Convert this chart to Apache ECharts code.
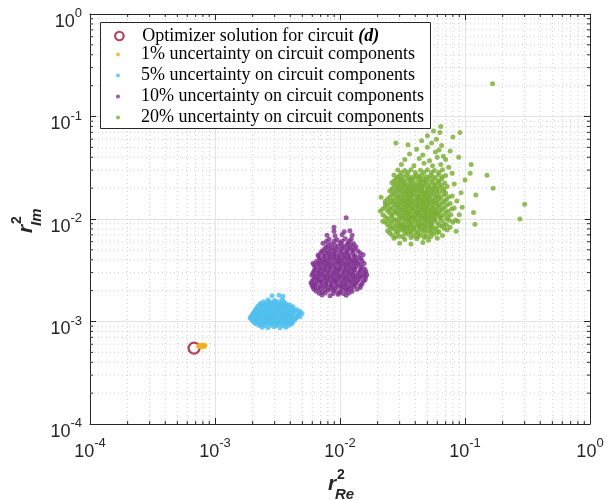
<!DOCTYPE html>
<html><head><meta charset="utf-8">
<script src="https://cdn.jsdelivr.net/npm/echarts@6/dist/echarts.min.js"></script>
<style>html,body{margin:0;padding:0;background:#fff}#c{width:607px;height:500px}</style>
</head><body><div id="c"></div>
<script>
const seriesNames = [
  'Optimizer solution for circuit (d)',
  '1% uncertainty on circuit components',
  '5% uncertainty on circuit components',
  '10% uncertainty on circuit components',
  '20% uncertainty on circuit components'
];
const seriesColors = ['#A2142F', '#EDB120', '#4DBEEE', '#7E2F8E', '#77AC30'];
const axisMin = 1e-4, axisMax = 1;
const minorDigits = [2, 3, 4, 5, 6, 7, 8, 9];
const decades = [1e-4, 1e-3, 1e-2, 1e-1];

const optimum = [[6.8e-4, 5.5e-4]];

const unc1 = [[7.5e-4,5.7e-4],[7.7e-4,5.8e-4],[7.9e-4,5.75e-4],[8.1e-4,5.8e-4],[7.8e-4,5.65e-4],[8.0e-4,5.9e-4],[7.6e-4,5.85e-4],[8.2e-4,5.7e-4],[7.4e-4,5.75e-4],[8.3e-4,5.85e-4]];

const unc5 = [
[2.38e-3,0.88e-3],[2.66e-3,0.87e-3],[2.97e-3,0.89e-3],[3.31e-3,0.87e-3],[3.70e-3,0.88e-3],
[2.25e-3,0.915e-3],[2.51e-3,0.91e-3],[2.80e-3,0.92e-3],[3.13e-3,0.915e-3],[3.50e-3,0.91e-3],[3.88e-3,0.92e-3],
[2.13e-3,0.95e-3],[2.33e-3,0.94e-3],[2.56e-3,0.96e-3],[2.80e-3,0.95e-3],[3.08e-3,0.94e-3],[3.37e-3,0.96e-3],[3.70e-3,0.95e-3],[4.06e-3,0.94e-3],
[2.06e-3,0.98e-3],[2.23e-3,0.985e-3],[2.45e-3,0.975e-3],[2.68e-3,0.98e-3],[2.95e-3,0.985e-3],[3.23e-3,0.975e-3],[3.53e-3,0.98e-3],[3.88e-3,0.985e-3],[4.15e-3,0.975e-3],
[2.01e-3,1.01e-3],[2.21e-3,1.02e-3],[2.42e-3,1.00e-3],[2.66e-3,1.01e-3],[2.91e-3,1.02e-3],[3.19e-3,1.00e-3],[3.50e-3,1.01e-3],[3.84e-3,1.02e-3],[4.21e-3,1.00e-3],
[1.96e-3,1.045e-3],[2.15e-3,1.04e-3],[2.35e-3,1.05e-3],[2.58e-3,1.045e-3],[2.83e-3,1.04e-3],[3.10e-3,1.05e-3],[3.40e-3,1.045e-3],[3.73e-3,1.04e-3],[4.10e-3,1.05e-3],[4.35e-3,1.045e-3],
[1.91e-3,1.08e-3],[2.09e-3,1.07e-3],[2.29e-3,1.09e-3],[2.51e-3,1.08e-3],[2.75e-3,1.07e-3],[3.02e-3,1.09e-3],[3.31e-3,1.08e-3],[3.63e-3,1.07e-3],[3.98e-3,1.09e-3],[4.45e-3,1.08e-3],
[1.94e-3,1.115e-3],[2.12e-3,1.11e-3],[2.33e-3,1.12e-3],[2.55e-3,1.115e-3],[2.80e-3,1.11e-3],[3.07e-3,1.12e-3],[3.37e-3,1.115e-3],[3.70e-3,1.11e-3],[4.05e-3,1.12e-3],[4.50e-3,1.115e-3],[4.80e-3,1.11e-3],
[1.98e-3,1.15e-3],[2.17e-3,1.16e-3],[2.38e-3,1.14e-3],[2.61e-3,1.15e-3],[2.86e-3,1.16e-3],[3.13e-3,1.14e-3],[3.44e-3,1.15e-3],[3.77e-3,1.16e-3],[4.13e-3,1.14e-3],[4.61e-3,1.15e-3],[4.97e-3,1.20e-3],
[2.02e-3,1.19e-3],[2.21e-3,1.185e-3],[2.42e-3,1.195e-3],[2.65e-3,1.19e-3],[2.91e-3,1.185e-3],[3.19e-3,1.195e-3],[3.50e-3,1.19e-3],[3.84e-3,1.185e-3],[4.20e-3,1.195e-3],[4.70e-3,1.19e-3],
[2.05e-3,1.23e-3],[2.25e-3,1.22e-3],[2.47e-3,1.24e-3],[2.70e-3,1.23e-3],[2.97e-3,1.22e-3],[3.25e-3,1.24e-3],[3.57e-3,1.23e-3],[3.91e-3,1.22e-3],[4.29e-3,1.24e-3],[4.79e-3,1.26e-3],
[2.09e-3,1.275e-3],[2.29e-3,1.27e-3],[2.51e-3,1.28e-3],[2.75e-3,1.275e-3],[3.02e-3,1.27e-3],[3.31e-3,1.28e-3],[3.63e-3,1.275e-3],[3.98e-3,1.27e-3],[4.40e-3,1.28e-3],
[2.13e-3,1.32e-3],[2.33e-3,1.31e-3],[2.56e-3,1.33e-3],[2.80e-3,1.32e-3],[3.08e-3,1.31e-3],[3.37e-3,1.33e-3],[3.70e-3,1.32e-3],[4.06e-3,1.31e-3],[4.53e-3,1.30e-3],
[2.17e-3,1.365e-3],[2.38e-3,1.36e-3],[2.61e-3,1.37e-3],[2.86e-3,1.365e-3],[3.13e-3,1.36e-3],[3.44e-3,1.37e-3],[3.77e-3,1.365e-3],[4.13e-3,1.36e-3],
[2.21e-3,1.41e-3],[2.42e-3,1.42e-3],[2.66e-3,1.40e-3],[2.91e-3,1.41e-3],[3.19e-3,1.42e-3],[3.50e-3,1.40e-3],[3.84e-3,1.41e-3],[4.21e-3,1.39e-3],
[2.27e-3,1.46e-3],[2.49e-3,1.455e-3],[2.73e-3,1.465e-3],[3.00e-3,1.46e-3],[3.28e-3,1.455e-3],[3.60e-3,1.465e-3],[3.95e-3,1.46e-3],
[2.33e-3,1.51e-3],[2.56e-3,1.50e-3],[2.80e-3,1.52e-3],[3.08e-3,1.51e-3],[3.37e-3,1.50e-3],[3.70e-3,1.49e-3],
[2.45e-3,1.56e-3],[2.70e-3,1.555e-3],[2.95e-3,1.565e-3],[3.22e-3,1.56e-3],[3.55e-3,1.555e-3],
[2.66e-3,1.62e-3],[3.02e-3,1.60e-3],[3.44e-3,1.63e-3],
[2.86e-3,1.78e-3],[3.25e-3,1.80e-3],[3.50e-3,1.76e-3]
];

const unc10 = [
[0.00718,0.00181],[0.00832,0.00178],[0.00964,0.00184],[0.0112,0.00180],
[0.0068,0.00189],[0.0076,0.00190],[0.0088,0.00188],[0.0098,0.00190],[0.0106,0.00188],[0.0118,0.00190],
[0.00643,0.00198],[0.00718,0.00195],[0.00802,0.00201],[0.00895,0.00198],[0.0100,0.00195],[0.0112,0.00201],[0.0125,0.00197],
[0.0062,0.00207],[0.0069,0.00208],[0.0076,0.00206],[0.0084,0.00208],[0.0092,0.00206],[0.0103,0.00208],[0.0113,0.00206],[0.0122,0.00208],[0.0137,0.00206],
[0.00608,0.00216],[0.00667,0.00213],[0.00731,0.00219],[0.00802,0.00216],[0.00879,0.00213],[0.00964,0.00219],[0.0106,0.00216],[0.0116,0.00213],[0.0129,0.00219],[0.0145,0.00215],
[0.0060,0.00226],[0.0063,0.00228],[0.0070,0.00225],[0.0077,0.00227],[0.0085,0.00225],[0.0093,0.00228],[0.0101,0.00225],[0.0110,0.00227],[0.0121,0.00225],[0.0132,0.00228],[0.0146,0.00226],
[0.00586,0.00237],[0.00643,0.00234],[0.00705,0.00240],[0.00773,0.00237],[0.00847,0.00234],[0.00929,0.00240],[0.0102,0.00237],[0.0112,0.00234],[0.0123,0.00240],[0.0134,0.00237],[0.0150,0.00234],
[0.0060,0.00248],[0.0066,0.00250],[0.0072,0.00247],[0.0079,0.00249],[0.0087,0.00247],[0.0095,0.00250],[0.0105,0.00247],[0.0115,0.00249],[0.0126,0.00247],[0.0138,0.00250],[0.0154,0.00248],
[0.00619,0.00259],[0.00679,0.00256],[0.00745,0.00262],[0.00817,0.00259],[0.00895,0.00256],[0.00982,0.00262],[0.0108,0.00259],[0.0118,0.00256],[0.0129,0.00262],[0.0142,0.00259],[0.0159,0.00256],
[0.0063,0.00271],[0.0069,0.00273],[0.0076,0.00270],[0.0083,0.00272],[0.0091,0.00270],[0.0100,0.00273],[0.0110,0.00270],[0.0121,0.00272],[0.0132,0.00270],[0.0146,0.00273],[0.0160,0.00271],
[0.00597,0.00283],[0.00655,0.00280],[0.00718,0.00286],[0.00787,0.00283],[0.00863,0.00280],[0.00946,0.00286],[0.0104,0.00283],[0.0114,0.00280],[0.0125,0.00286],[0.0137,0.00283],[0.0150,0.00280],[0.0164,0.00286],
[0.0061,0.00296],[0.0067,0.00298],[0.0073,0.00295],[0.0080,0.00297],[0.0088,0.00295],[0.0096,0.00298],[0.0106,0.00295],[0.0116,0.00297],[0.0127,0.00295],[0.0140,0.00298],[0.0155,0.00296],
[0.00619,0.00310],[0.00679,0.00306],[0.00745,0.00314],[0.00817,0.00310],[0.00895,0.00306],[0.00982,0.00314],[0.0108,0.00310],[0.0118,0.00306],[0.0129,0.00314],[0.0145,0.00310],[0.0161,0.00306],
[0.0063,0.00324],[0.0069,0.00326],[0.0076,0.00323],[0.0083,0.00325],[0.0092,0.00323],[0.0100,0.00326],[0.0110,0.00323],[0.0120,0.00325],[0.0131,0.00323],[0.0146,0.00326],[0.0158,0.00324],
[0.00643,0.00339],[0.00705,0.00335],[0.00773,0.00343],[0.00847,0.00339],[0.00929,0.00335],[0.0102,0.00343],[0.0112,0.00339],[0.0123,0.00335],[0.0134,0.00343],[0.0150,0.00339],
[0.0062,0.00355],[0.0069,0.00357],[0.0075,0.00353],[0.0082,0.00356],[0.0090,0.00353],[0.0099,0.00357],[0.0109,0.00353],[0.0119,0.00356],[0.0130,0.00353],[0.0144,0.00357],
[0.00608,0.00371],[0.00667,0.00367],[0.00731,0.00375],[0.00802,0.00371],[0.00879,0.00367],[0.00964,0.00375],[0.0106,0.00371],[0.0116,0.00367],[0.0127,0.00375],[0.0139,0.00371],[0.0156,0.00367],
[0.0065,0.00388],[0.0071,0.00390],[0.0078,0.00386],[0.0085,0.00389],[0.0094,0.00386],[0.0103,0.00390],[0.0113,0.00386],[0.0124,0.00389],[0.0136,0.00386],[0.0150,0.00390],
[0.00692,0.00406],[0.00759,0.00401],[0.00832,0.00411],[0.00912,0.00406],[0.0100,0.00401],[0.0110,0.00411],[0.0120,0.00406],[0.0132,0.00401],[0.0147,0.00411],
[0.0068,0.00425],[0.0075,0.00427],[0.0082,0.00423],[0.0090,0.00426],[0.0098,0.00423],[0.0107,0.00427],[0.0117,0.00423],[0.0129,0.00426],[0.0142,0.00424],
[0.00667,0.00444],[0.00745,0.00439],[0.00817,0.00449],[0.00895,0.00444],[0.00982,0.00439],[0.0108,0.00449],[0.0118,0.00444],[0.0132,0.00439],[0.0153,0.00449],
[0.0070,0.00465],[0.0077,0.00467],[0.0085,0.00463],[0.0093,0.00466],[0.0103,0.00463],[0.0114,0.00467],[0.0127,0.00463],[0.0145,0.00466],
[0.00718,0.00486],[0.00802,0.00481],[0.00895,0.00491],[0.0100,0.00486],[0.0112,0.00481],[0.0125,0.00491],[0.0139,0.00486],
[0.0075,0.00508],[0.0083,0.00510],[0.0093,0.00506],[0.0104,0.00509],[0.0116,0.00506],[0.0130,0.00510],
[0.00773,0.00531],[0.00863,0.00525],[0.00964,0.00537],[0.0108,0.00531],[0.0120,0.00525],[0.0134,0.00537],
[0.0080,0.00556],[0.0091,0.00559],[0.0103,0.00553],[0.0113,0.00558],[0.0124,0.00554],
[0.00731,0.00581],[0.00847,0.00575],[0.0100,0.00587],[0.0116,0.00581],[0.0129,0.00575],
[0.0078,0.00608],[0.0090,0.00611],[0.0104,0.00605],[0.0119,0.00610],
[0.00817,0.00635],[0.00946,0.00628],[0.0110,0.00642],[0.0123,0.00635],
[0.00787,0.00695],[0.00912,0.00688],[0.0104,0.00702],[0.0125,0.00695],
[0.00895,0.0076],[0.0108,0.0075],[0.0120,0.0077],
[0.00895,0.0083],[0.0112,0.0103]
];

const unc20 = [
[0.030,0.0058],[0.037,0.0057],[0.046,0.0059],
[0.027,0.0065],[0.033,0.0063],[0.041,0.0064],[0.051,0.0062],[0.060,0.0065],
[0.028,0.0067],[0.032,0.0067],[0.037,0.0066],[0.042,0.0067],[0.047,0.0066],[0.053,0.0067],
[0.026,0.0070],[0.030,0.0068],[0.035,0.0071],[0.039,0.0069],[0.044,0.0070],[0.049,0.0068],[0.056,0.0071],[0.066,0.0069],
[0.025,0.0073],[0.029,0.0074],[0.033,0.0073],[0.037,0.0074],[0.042,0.0073],[0.047,0.0074],[0.053,0.0073],[0.060,0.0074],
[0.024,0.0077],[0.028,0.0075],[0.031,0.0078],[0.034,0.0076],[0.037,0.0077],[0.041,0.0075],[0.045,0.0078],[0.050,0.0076],[0.055,0.0077],[0.062,0.0075],[0.072,0.0078],
[0.026,0.0080],[0.029,0.0081],[0.032,0.0080],[0.035,0.0081],[0.039,0.0080],[0.043,0.0081],[0.048,0.0080],[0.053,0.0081],[0.059,0.0080],[0.068,0.0081],
[0.025,0.0084],[0.027,0.0082],[0.030,0.0085],[0.033,0.0083],[0.036,0.0084],[0.039,0.0082],[0.043,0.0085],[0.047,0.0083],[0.052,0.0084],[0.057,0.0082],[0.065,0.0085],[0.076,0.0083],
[0.024,0.0088],[0.028,0.0087],[0.031,0.0088],[0.034,0.0087],[0.037,0.0088],[0.041,0.0087],[0.045,0.0088],[0.049,0.0087],[0.054,0.0088],[0.062,0.0087],[0.071,0.0088],
[0.023,0.0093],[0.026,0.0091],[0.029,0.0092],[0.032,0.0090],[0.035,0.0093],[0.038,0.0091],[0.042,0.0092],[0.046,0.0090],[0.050,0.0093],[0.054,0.0091],[0.060,0.0092],[0.068,0.0090],[0.080,0.0093],
[0.025,0.0096],[0.027,0.0097],[0.030,0.0096],[0.033,0.0097],[0.036,0.0096],[0.040,0.0097],[0.044,0.0096],[0.048,0.0097],[0.052,0.0096],[0.057,0.0097],[0.065,0.0096],[0.075,0.0097],
[0.024,0.0101],[0.028,0.0099],[0.031,0.0102],[0.034,0.0100],[0.037,0.0101],[0.040,0.0099],[0.044,0.0102],[0.048,0.0100],[0.052,0.0101],[0.057,0.0099],[0.063,0.0102],[0.071,0.0100],[0.084,0.0098],
[0.023,0.0105],[0.026,0.0106],[0.030,0.0105],[0.033,0.0106],[0.036,0.0105],[0.038,0.0104],[0.041,0.0106],[0.045,0.0105],[0.049,0.0106],[0.053,0.0105],[0.058,0.0106],[0.064,0.0105],[0.073,0.0106],
[0.022,0.0110],[0.026,0.0108],[0.029,0.0111],[0.032,0.0109],[0.035,0.0110],[0.039,0.0108],[0.042,0.0111],[0.046,0.0109],[0.050,0.0110],[0.055,0.0108],[0.060,0.0111],[0.067,0.0109],[0.077,0.0110],
[0.025,0.0115],[0.028,0.0116],[0.031,0.0115],[0.034,0.0116],[0.037,0.0115],[0.041,0.0116],[0.044,0.0115],[0.048,0.0116],[0.053,0.0115],[0.057,0.0116],[0.062,0.0115],[0.070,0.0116],
[0.024,0.0120],[0.027,0.0118],[0.030,0.0121],[0.033,0.0119],[0.036,0.0120],[0.040,0.0118],[0.044,0.0121],[0.048,0.0119],[0.052,0.0120],[0.058,0.0118],[0.064,0.0121],[0.073,0.0119],
[0.022,0.0125],[0.025,0.0126],[0.028,0.0125],[0.031,0.0126],[0.034,0.0125],[0.038,0.0126],[0.041,0.0125],[0.045,0.0126],[0.049,0.0125],[0.054,0.0126],[0.059,0.0125],[0.066,0.0126],[0.078,0.0125],
[0.023,0.0131],[0.026,0.0129],[0.029,0.0132],[0.032,0.0130],[0.035,0.0131],[0.038,0.0129],[0.042,0.0132],[0.046,0.0130],[0.050,0.0131],[0.055,0.0129],[0.061,0.0132],[0.069,0.0130],[0.082,0.0128],
[0.024,0.0137],[0.027,0.0138],[0.030,0.0137],[0.033,0.0138],[0.036,0.0137],[0.039,0.0138],[0.043,0.0137],[0.047,0.0138],[0.051,0.0137],[0.056,0.0138],[0.063,0.0137],[0.072,0.0138],
[0.025,0.0143],[0.028,0.0141],[0.031,0.0144],[0.034,0.0142],[0.037,0.0143],[0.041,0.0141],[0.045,0.0144],[0.049,0.0142],[0.053,0.0143],[0.059,0.0141],[0.066,0.0144],[0.076,0.0142],
[0.023,0.0149],[0.026,0.0150],[0.029,0.0149],[0.032,0.0150],[0.035,0.0149],[0.038,0.0150],[0.042,0.0149],[0.046,0.0150],[0.050,0.0149],[0.055,0.0150],[0.060,0.0149],[0.068,0.0150],
[0.024,0.0156],[0.027,0.0154],[0.030,0.0157],[0.033,0.0155],[0.036,0.0156],[0.040,0.0154],[0.043,0.0157],[0.047,0.0155],[0.051,0.0156],[0.056,0.0154],[0.062,0.0157],[0.071,0.0155],
[0.025,0.0163],[0.028,0.0164],[0.031,0.0163],[0.034,0.0164],[0.037,0.0163],[0.041,0.0164],[0.044,0.0163],[0.048,0.0164],[0.052,0.0163],[0.058,0.0164],[0.064,0.0163],[0.074,0.0164],
[0.026,0.0171],[0.029,0.0169],[0.032,0.0172],[0.035,0.0170],[0.038,0.0171],[0.042,0.0169],[0.046,0.0172],[0.050,0.0170],[0.054,0.0171],[0.060,0.0169],[0.068,0.0172],[0.079,0.0168],
[0.027,0.0179],[0.030,0.0180],[0.033,0.0179],[0.036,0.0180],[0.039,0.0179],[0.043,0.0180],[0.047,0.0179],[0.051,0.0180],[0.056,0.0179],[0.062,0.0180],[0.070,0.0179],
[0.025,0.0188],[0.028,0.0186],[0.031,0.0189],[0.034,0.0187],[0.037,0.0188],[0.041,0.0186],[0.045,0.0189],[0.049,0.0187],[0.054,0.0188],[0.059,0.0186],[0.066,0.0189],
[0.026,0.0196],[0.029,0.0197],[0.032,0.0196],[0.035,0.0197],[0.038,0.0196],[0.041,0.0197],[0.045,0.0196],[0.050,0.0197],[0.055,0.0196],[0.060,0.0197],[0.068,0.0196],
[0.027,0.0206],[0.030,0.0204],[0.033,0.0207],[0.036,0.0205],[0.039,0.0206],[0.043,0.0204],[0.047,0.0207],[0.052,0.0205],[0.057,0.0206],[0.063,0.0204],[0.072,0.0207],
[0.028,0.0215],[0.031,0.0216],[0.034,0.0215],[0.038,0.0216],[0.042,0.0215],[0.046,0.0216],[0.051,0.0215],[0.058,0.0216],[0.065,0.0215],
[0.026,0.0226],[0.029,0.0224],[0.032,0.0227],[0.036,0.0225],[0.040,0.0226],[0.044,0.0224],[0.049,0.0227],[0.055,0.0225],[0.061,0.0226],[0.069,0.0224],
[0.027,0.0235],[0.030,0.0236],[0.033,0.0235],[0.037,0.0236],[0.044,0.0235],[0.048,0.0236],[0.054,0.0235],[0.062,0.0236],
[0.028,0.0246],[0.031,0.0244],[0.035,0.0247],[0.038,0.0245],[0.042,0.0246],[0.046,0.0244],[0.051,0.0247],[0.058,0.0245],[0.065,0.0246],
[0.029,0.0257],[0.032,0.0258],[0.036,0.0257],[0.039,0.0258],[0.043,0.0257],[0.049,0.0258],[0.056,0.0257],[0.066,0.0258],
[0.027,0.0268],[0.030,0.0266],[0.034,0.0269],[0.041,0.0267],[0.045,0.0268],[0.053,0.0266],[0.061,0.0269],[0.070,0.0266],
[0.031,0.0285],[0.035,0.0286],[0.040,0.0285],[0.047,0.0286],[0.054,0.0285],[0.062,0.0286],
[0.029,0.0301],[0.033,0.0298],[0.037,0.0302],[0.044,0.0299],[0.050,0.0301],[0.057,0.0298],[0.066,0.0302],
[0.031,0.034],[0.039,0.033],[0.047,0.035],[0.055,0.033],[0.064,0.034],[0.074,0.032],
[0.033,0.038],[0.043,0.039],[0.052,0.037],[0.060,0.040],[0.070,0.038],
[0.036,0.043],[0.046,0.042],[0.058,0.045],[0.067,0.041],
[0.041,0.048],[0.050,0.050],[0.062,0.047],[0.076,0.046],
[0.035,0.053],[0.054,0.055],[0.065,0.052],
[0.028,0.055],[0.045,0.058],[0.059,0.060],
[0.050,0.065],[0.063,0.070],[0.080,0.063],[0.064,0.080],[0.056,0.072],
[0.166,0.209],[0.30,0.0139],[0.275,0.0100],[0.168,0.020],[0.150,0.0267],[0.122,0.0171],[0.120,0.0089],[0.117,0.0116],
[0.112,0.034],[0.110,0.028],[0.091,0.070],[0.089,0.040],[0.100,0.024],[0.095,0.013],[0.088,0.0095],[0.093,0.018],
[0.082,0.022],[0.086,0.015],[0.079,0.028],[0.090,0.011],[0.085,0.0076],
[0.0213,0.0163],[0.022,0.0095],[0.023,0.0140],[0.021,0.0120]
];

const minorVals = [];
decades.forEach(d => minorDigits.forEach(k => minorVals.push(+(d * k).toPrecision(3))));

const tickFont = 'Liberation Sans';
const tickRich = {
  b: { fontFamily: tickFont, fontSize: 18, color: '#262626', lineHeight: 24, verticalAlign: 'bottom' },
  s: { fontFamily: tickFont, fontSize: 13, color: '#262626', lineHeight: 11, verticalAlign: 'top' }
};
const fmt = v => '{b|10}{s|' + Math.round(Math.log10(v)) + '}';

function logAxis(pos, labels) {
  return {
    type: 'log', logBase: 10, min: axisMin, max: axisMax, position: pos,
    axisLine: { show: true, onZero: false, lineStyle: { color: '#262626', width: 1 } },
    axisTick: { show: true, inside: true, length: 6, lineStyle: { color: '#262626', width: 1 } },
    axisLabel: labels ? Object.assign({ show: true, formatter: fmt, rich: tickRich, showMinLabel: true, showMaxLabel: true }, labels) : { show: false },
    splitLine: { show: !!labels, lineStyle: { color: '#e4e4e4', width: 1 } },
    minorTick: { show: false }, minorSplitLine: { show: false }
  };
}

function minorRender(dim) {
  return function (params, api) {
    const v = api.value(dim);
    let a, b, t1, t2;
    if (dim === 0) {
      a = api.coord([v, axisMin]); b = api.coord([v, axisMax]);
      t1 = [a[0], a[1] - 3]; t2 = [b[0], b[1] + 3];
    } else {
      a = api.coord([axisMin, v]); b = api.coord([axisMax, v]);
      t1 = [a[0] + 3, a[1]]; t2 = [b[0] - 3, b[1]];
    }
    return { type: 'group', children: [
      { type: 'line', shape: { x1: a[0], y1: a[1], x2: b[0], y2: b[1] }, style: { stroke: '#cfcfcf', lineWidth: 1, lineDash: [1, 3] } },
      { type: 'line', shape: { x1: a[0], y1: a[1], x2: t1[0], y2: t1[1] }, style: { stroke: '#262626', lineWidth: 1 } },
      { type: 'line', shape: { x1: b[0], y1: b[1], x2: t2[0], y2: t2[1] }, style: { stroke: '#262626', lineWidth: 1 } }
    ] };
  };
}

const legendFont = 'Liberation Serif';
const chart = echarts.init(document.getElementById('c'), null, { renderer: 'canvas' });
const titleFont = 'Liberation Sans';
function axTitle(x, y, rot, sub) {
  return { type: 'group', x: x, y: y, rotation: rot, z: 5, children: [
    { type: 'text', x: 0, y: -7, style: { text: 'r', font: 'italic bold 21px ' + titleFont, fill: '#262626', textAlign: 'left', textVerticalAlign: 'middle' } },
    { type: 'text', x: 9, y: -16, style: { text: '2', font: 'bold 14px ' + titleFont, fill: '#262626', textAlign: 'left', textVerticalAlign: 'middle' } },
    { type: 'text', x: 7, y: 3.5, style: { text: sub, font: 'italic bold 15px ' + titleFont, fill: '#262626', textAlign: 'left', textVerticalAlign: 'middle' } }
  ] };
}

chart.setOption({
  animation: false,
  backgroundColor: '#fff',
  grid: { left: 90, right: 17, top: 14, bottom: 76, containLabel: false },
  xAxis: [
    logAxis('bottom', { margin: 13 }),
    logAxis('top', null)
  ],
  yAxis: [
    logAxis('left', { margin: 8, padding: [10, 0, 0, 0] }),
    logAxis('right', null)
  ],
  legend: [
    {
      data: [{ name: seriesNames[0], icon: 'circle', itemStyle: { color: 'rgba(255,255,255,0)', borderColor: seriesColors[0], borderWidth: 2.2 } }],
      left: 114, top: 26, padding: 0, itemWidth: 36, itemHeight: 8.5, selectedMode: false,
      formatter: n => '{t|Optimizer solution for circuit }{d|(d)}',
      textStyle: { fontFamily: legendFont, fontSize: 18, color: '#000', lineHeight: 20,
        rich: { t: { fontFamily: legendFont, fontSize: 18, color: '#000', lineHeight: 20 },
                d: { fontFamily: legendFont, fontSize: 18, color: '#000', lineHeight: 20, fontStyle: 'italic', fontWeight: 'bold' } } }
    },
    {
      data: seriesNames.slice(1).map(n => ({ name: n, icon: 'circle' })),
      orient: 'vertical', left: 116, top: 44.5, padding: 0, itemGap: 1, itemWidth: 36, itemHeight: 4, selectedMode: false,
      textStyle: { fontFamily: legendFont, fontSize: 18, color: '#000', lineHeight: 20 }
    }
  ],
  graphic: [
    { type: 'rect', z: 3, shape: { x: 100.5, y: 22.5, width: 330, height: 106 }, style: { fill: '#fff', stroke: '#262626', lineWidth: 1 } },
    axTitle(328, 491, 0, 'Re'),
    axTitle(33, 233, Math.PI / 2, 'Im')
  ],
  series: [
    { type: 'custom', silent: true, z: 1, clip: false, renderItem: minorRender(0), data: minorVals.map(v => [v, axisMin]), encode: { x: 0, y: 1 } },
    { type: 'custom', silent: true, z: 1, clip: false, renderItem: minorRender(1), data: minorVals.map(v => [axisMin, v]), encode: { x: 0, y: 1 } },
    { name: seriesNames[0], type: 'scatter', data: optimum, symbol: 'circle', symbolSize: 11, z: 2, silent: true,
      itemStyle: { color: 'rgba(255,255,255,0)', borderColor: seriesColors[0], borderWidth: 2.3 } },
    { name: seriesNames[1], type: 'scatter', data: unc1, symbol: 'circle', symbolSize: 5, z: 2, silent: true, itemStyle: { color: seriesColors[1] } },
    { name: seriesNames[2], type: 'scatter', data: unc5, symbol: 'circle', symbolSize: 5, z: 2, silent: true, itemStyle: { color: seriesColors[2] } },
    { name: seriesNames[3], type: 'scatter', data: unc10, symbol: 'circle', symbolSize: 5, z: 2, silent: true, itemStyle: { color: seriesColors[3] } },
    { name: seriesNames[4], type: 'scatter', data: unc20, symbol: 'circle', symbolSize: 5, z: 2, silent: true, itemStyle: { color: seriesColors[4] } }
  ]
});
</script>
</body></html>
